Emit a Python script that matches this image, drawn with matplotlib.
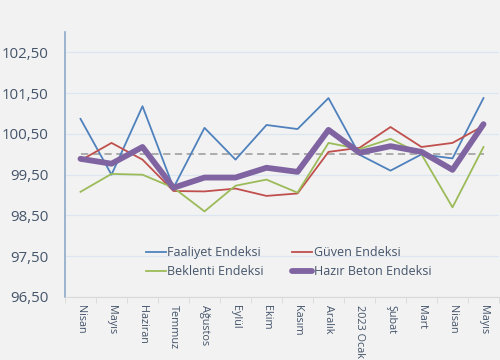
import matplotlib.pyplot as plt
import numpy as np

months = ["Nisan", "Mayıs", "Haziran", "Temmuz", "Ağustos", "Eylül", "Ekim",
          "Kasım", "Aralık", "2023 Ocak", "Şubat", "Mart", "Nisan", "Mayıs"]

faaliyet = [100.87, 99.50, 101.18, 99.18, 100.65, 99.87, 100.72,
            100.62, 101.38, 99.99, 99.60, 100.00, 99.90, 101.38]
guven = [99.85, 100.28, 99.87, 99.10, 99.09, 99.16, 98.98,
         99.04, 100.06, 100.16, 100.67, 100.18, 100.28, 100.70]
beklenti = [99.08, 99.52, 99.50, 99.18, 98.60, 99.23, 99.38,
            99.06, 100.28, 100.13, 100.38, 100.00, 98.70, 100.18]
hazir_beton = [99.89, 99.77, 100.18, 99.18, 99.43, 99.43, 99.67,
               99.57, 100.60, 100.04, 100.20, 100.06, 99.62, 100.74]
referans = 100.0

plt.rcParams['font.family'] = ['Open Sans', 'DejaVu Sans']
text_color = "#44546a"
bg = "#f2f2f2"

fig = plt.figure(figsize=(5, 3.6), dpi=100, facecolor=bg)
ax = fig.add_axes([0.13, 0.175, 0.868, 0.736], facecolor=bg)

x = np.arange(len(months))
ax.plot(x, [referans] * len(x), color="#a6a6a6", lw=1.3, ls=(0, (4, 2.5)), zorder=2)
l1, = ax.plot(x, faaliyet, color="#4f81bd", lw=1.3, label="Faaliyet Endeksi", zorder=3)
l2, = ax.plot(x, guven, color="#c0504d", lw=1.3, label="Güven Endeksi", zorder=3)
l3, = ax.plot(x, beklenti, color="#9bbb59", lw=1.3, label="Beklenti Endeksi", zorder=3)
l4, = ax.plot(x, hazir_beton, color="#8064a2", lw=4.2, label="Hazır Beton Endeksi",
              solid_capstyle="round", solid_joinstyle="round", zorder=4)

ax.set_ylim(96.5, 103.0)
yt = np.arange(96.5, 103.0, 1.0)
ax.set_yticks(yt)
ax.set_yticklabels([f"{v:.2f}".replace(".", ",") for v in yt])
ax.set_xlim(-0.5, len(months) - 0.5)
ax.set_xticks(x)
ax.set_xticklabels(months, rotation=-90, fontsize=7.8, color=text_color)
ax.set_xticks(np.arange(-0.5, len(months), 1.0), minor=True)
ax.tick_params(axis="x", which="major", length=0, pad=6)
ax.tick_params(axis="x", which="minor", length=4, color="#d9d9d9")
ax.tick_params(axis="y", length=0, labelsize=10.8, labelcolor=text_color, pad=12)

ax.grid(axis="y", color="#dce6f0", lw=0.9)
ax.set_axisbelow(True)
for s in ["top", "right"]:
    ax.spines[s].set_visible(False)
ax.spines["left"].set_color("#8ea9c8")
ax.spines["left"].set_linewidth(1.2)
ax.spines["bottom"].set_color("#d9d9d9")

ax.legend([l1, l3, l2, l4], [l1.get_label(), l3.get_label(), l2.get_label(), l4.get_label()],
          ncol=2, loc="upper left", bbox_to_anchor=(0.16, 0.235), frameon=False,
          fontsize=9, labelcolor=text_color, handlelength=1.6, handletextpad=0.1,
          columnspacing=2.3, labelspacing=0.5)

fig.savefig("out.png", dpi=100, facecolor=bg)
